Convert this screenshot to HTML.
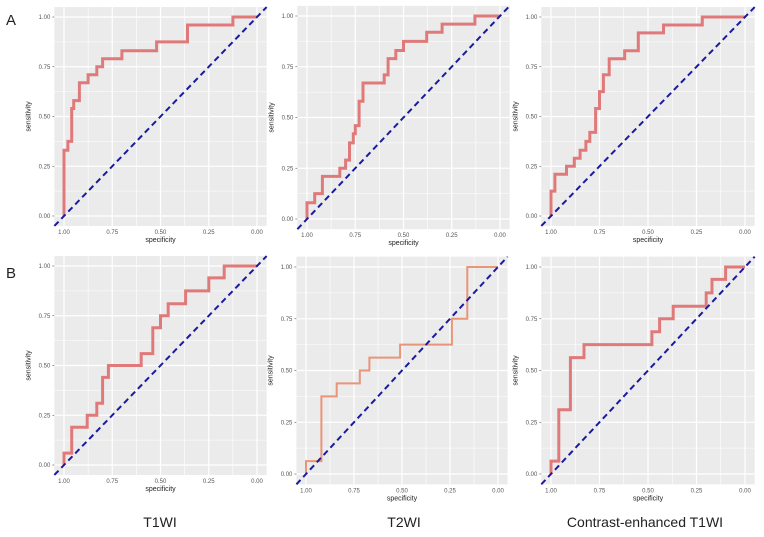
<!DOCTYPE html>
<html><head><meta charset="utf-8"><style>
body{margin:0;background:#fff;}
svg{display:block;font-family:"Liberation Sans",sans-serif;}
</style></head><body>
<svg id="s" width="764" height="537" xmlns="http://www.w3.org/2000/svg">
<text x="6" y="25" font-size="15" fill="#222">A</text>
<text x="6" y="278" font-size="15" fill="#222">B</text>
<text x="160" y="527" font-size="14" text-anchor="middle" fill="#222">T1WI</text>
<text x="404" y="527" font-size="14" text-anchor="middle" fill="#222">T2WI</text>
<text x="645" y="527" font-size="14" text-anchor="middle" fill="#222">Contrast-enhanced T1WI</text>
</svg>
<script>
const P=[
{xa:64,xb:257,ya:17,yb:216,c:"#e07a7a",w:3,pts:[0,0,0,.33,.02,.33,.02,.375,.04,.375,.04,.54,.05,.54,.05,.58,.08,.58,.08,.67,.125,.67,.125,.71,.17,.71,.17,.75,.2,.75,.2,.79,.3,.79,.3,.83,.48,.83,.48,.875,.64,.875,.64,.96,.875,.96,.875,1,1,1]},
{xa:307,xb:500,ya:16,yb:219,c:"#e07a7a",w:3,pts:[0,0,0,.08,.04,.08,.04,.125,.08,.125,.08,.21,.17,.21,.17,.25,.2,.25,.2,.29,.22,.29,.22,.375,.24,.375,.24,.42,.25,.42,.25,.46,.27,.46,.27,.58,.29,.58,.29,.67,.4,.67,.4,.71,.42,.71,.42,.79,.46,.79,.46,.83,.5,.83,.5,.875,.62,.875,.62,.92,.7,.92,.7,.96,.87,.96,.87,1,1,1]},
{xa:551,xb:745,ya:17,yb:216,c:"#e07a7a",w:3,pts:[0,0,0,.125,.02,.125,.02,.21,.08,.21,.08,.25,.12,.25,.12,.29,.15,.29,.15,.33,.18,.33,.18,.375,.2,.375,.2,.42,.23,.42,.23,.54,.25,.54,.25,.625,.27,.625,.27,.71,.3,.71,.3,.79,.38,.79,.38,.83,.45,.83,.45,.92,.58,.92,.58,.96,.78,.96,.78,1,1,1]},
{xa:64,xb:257,ya:266,yb:465,c:"#e07a7a",w:3,pts:[0,0,0,.06,.04,.06,.04,.19,.12,.19,.12,.25,.17,.25,.17,.31,.2,.31,.2,.44,.23,.44,.23,.5,.4,.5,.4,.56,.46,.56,.46,.69,.5,.69,.5,.75,.54,.75,.54,.81,.63,.81,.63,.875,.75,.875,.75,.94,.83,.94,.83,1,1,1]},
{xa:306,xb:498,ya:267,yb:474,c:"#e8957a",w:2,pts:[0,0,0,.0625,.08,.0625,.08,.375,.16,.375,.16,.4375,.28,.4375,.28,.5,.33,.5,.33,.5625,.49,.5625,.49,.625,.76,.625,.76,.75,.84,.75,.84,1,1,1]},
{xa:551,xb:745,ya:267,yb:474,c:"#e07a7a",w:3,pts:[0,0,0,.0625,.04,.0625,.04,.31,.1,.31,.1,.5625,.17,.5625,.17,.625,.52,.625,.52,.6875,.56,.6875,.56,.75,.63,.75,.63,.81,.8,.81,.8,.875,.83,.875,.83,.94,.9,.94,.9,1,1,1]}
];
let h="";
for(const p of P){
 const W=p.xb-p.xa,H=p.yb-p.ya,ex=W*.05,ey=H*.05;
 const X=f=>p.xa+f*W, Y=s=>p.yb-s*H;
 h+=`<rect x="${p.xa-ex}" y="${p.ya-ey}" width="${W+2*ex}" height="${H+2*ey}" fill="#ebebeb"/>`;
 for(let i=0;i<=8;i++){const t=i/8,lw=i%2?0.6:1.2;
  h+=`<line x1="${X(t)}" x2="${X(t)}" y1="${p.ya-ey}" y2="${p.yb+ey}" stroke="#fff" stroke-width="${lw}"/>`;
  h+=`<line y1="${Y(t)}" y2="${Y(t)}" x1="${p.xa-ex}" x2="${p.xb+ex}" stroke="#fff" stroke-width="${lw}"/>`;}
 const lab=["1.00","0.75","0.50","0.25","0.00"];
 for(let i=0;i<5;i++){
  h+=`<text x="${X(i/4)}" y="${p.yb+ey+8}" font-size="6" fill="#555" text-anchor="middle">${lab[i]}</text>`;
  h+=`<text x="${p.xa-ex-4}" y="${Y(1-i/4)+2}" font-size="6" fill="#555" text-anchor="end">${lab[i]}</text>`;
  h+=`<line x1="${p.xa-ex-2}" x2="${p.xa-ex}" y1="${Y(1-i/4)}" y2="${Y(1-i/4)}" stroke="#555" stroke-width=".6"/>`;}
 h+=`<text x="${(p.xa+p.xb)/2}" y="${p.yb+ey+16}" font-size="7" fill="#222" text-anchor="middle">specificity</text>`;
 const cy=(p.ya+p.yb)/2, lx=p.xa-ex-24;
 h+=`<text x="${lx}" y="${cy}" font-size="7" fill="#222" text-anchor="middle" transform="rotate(-90 ${lx} ${cy})">sensitivity</text>`;
 let d="";for(let i=0;i<p.pts.length;i+=2)d+=(i?"L":"M")+X(p.pts[i]).toFixed(1)+","+Y(p.pts[i+1]).toFixed(1);
 h+=`<path d="${d}" fill="none" stroke="${p.c}" stroke-width="${p.w}"/>`;
 h+=`<line x1="${X(-.05)}" y1="${Y(-.05)}" x2="${X(1.05)}" y2="${Y(1.05)}" stroke="#1a1aa0" stroke-width="2" stroke-dasharray="6,4"/>`;
}
document.getElementById("s").insertAdjacentHTML("afterbegin",h);
</script>
</body></html>
